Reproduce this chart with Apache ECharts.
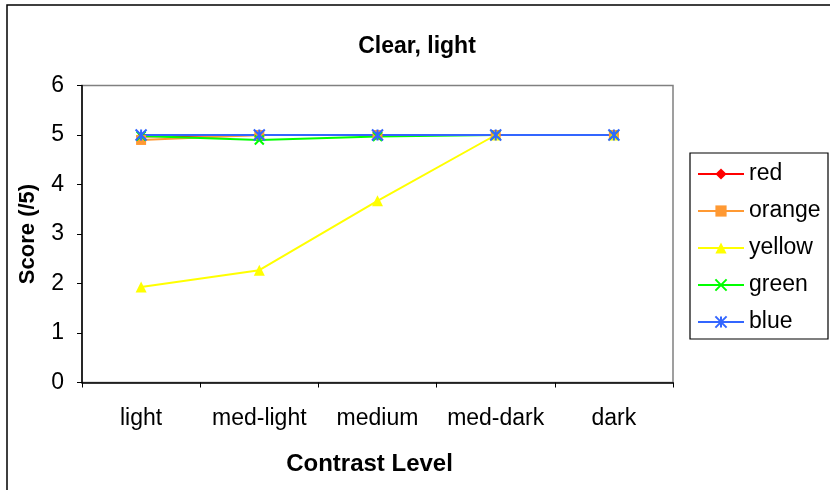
<!DOCTYPE html>
<html><head><meta charset="utf-8">
<script src="https://cdn.jsdelivr.net/npm/echarts@6/dist/echarts.min.js"></script>
<style>html,body{margin:0;padding:0;background:#fff}#c{width:830px;height:490px}</style>
</head><body><div id="c"></div>
<script>
var categories = ['light', 'med-light', 'medium', 'med-dark', 'dark'];
var seriesNames = ['red', 'orange', 'yellow', 'green', 'blue'];
var redVals = [4.97, 5, 5, 5, 5];
var orangeVals = [4.9, 5, 5, 5, 5];
var yellowVals = [1.93, 2.27, 3.67, 5, 5];
var greenVals = [4.98, 4.9, 4.97, 5, 5];
var blueVals = [5, 5, 5, 5, 5];
var yTicks = [0, 1, 2, 3, 4, 5, 6];

var colors = ['#FF0000', '#FF9933', '#FFFF00', '#00FF00', '#3366FF'];
var symbols = ['diamond', 'rect', 'triangle',
  'path://M0,0L10,10M10,0L0,10',
  'path://M0,0L10,10M10,0L0,10M5,0L5,10'];
var symSizes = [10, 10, 11, 9, 11];
var values = [redVals, orangeVals, yellowVals, greenVals, blueVals];
var font = '"Liberation Sans", Arial, sans-serif';

var series = seriesNames.map(function (n, i) {
  var isPath = i >= 3;
  return {
    name: n, type: 'line', data: values[i],
    symbol: symbols[i], symbolSize: symSizes[i], showSymbol: true,
    lineStyle: { color: colors[i], width: 2 },
    itemStyle: { color: isPath ? 'none' : colors[i], borderColor: colors[i], borderWidth: isPath ? 2 : 0 },
    emphasis: { disabled: true },
    animation: false
  };
});

var chart = echarts.init(document.getElementById('c'), null, { renderer: 'canvas' });
chart.setOption({
  animation: false,
  backgroundColor: '#fff',
  title: {
    text: 'Clear, light', left: 412, top: 30, textAlign: 'center',
    textStyle: { fontFamily: font, fontSize: 23, fontWeight: 'bold', color: '#000' }
  },
  grid: { left: 82, top: 85.5, width: 591, height: 297, show: true, borderColor: '#808080', borderWidth: 1.5, backgroundColor: 'transparent' },
  xAxis: {
    type: 'category', data: categories, boundaryGap: true,
    axisLine: { lineStyle: { color: '#000', width: 1.5 } },
    axisTick: { show: true, interval: 0, alignWithLabel: false, length: 5, lineStyle: { color: '#000' } },
    axisLabel: { interval: 0, fontFamily: font, fontSize: 23, color: '#000', margin: 25 },
    name: 'Contrast Level', nameLocation: 'middle', nameGap: 70,
    nameTextStyle: { fontFamily: font, fontSize: 24, fontWeight: 'bold', color: '#000', padding: [0, 16, 0, 0] },
    splitLine: { show: false }
  },
  yAxis: {
    type: 'value', min: yTicks[0], max: yTicks[yTicks.length - 1], interval: 1,
    axisLine: { show: true, lineStyle: { color: '#000', width: 1.5 } },
    axisTick: { show: true, length: 5, lineStyle: { color: '#000' } },
    axisLabel: { fontFamily: font, fontSize: 23, color: '#000', margin: 18 },
    splitLine: { show: false },
    name: 'Score (/5)', nameLocation: 'middle', nameGap: 43,
    nameTextStyle: { fontFamily: font, fontSize: 22, fontWeight: 'bold', color: '#000' }
  },
  legend: {
    orient: 'vertical', left: 697, top: 162, padding: 0, itemWidth: 46, itemHeight: 14, itemGap: 13,
    data: seriesNames,
    textStyle: { fontFamily: font, fontSize: 23, lineHeight: 24, color: '#000' },
    selectedMode: false
  },
  graphic: [
    { type: 'rect', shape: { x: 7, y: 5, width: 900, height: 600 }, style: { fill: 'none', stroke: '#000', lineWidth: 1.5 }, silent: true },
    { type: 'rect', shape: { x: 690, y: 153, width: 138, height: 186 }, style: { fill: 'none', stroke: '#000', lineWidth: 1.2 }, silent: true }
  ],
  series: series
});
</script></body></html>
